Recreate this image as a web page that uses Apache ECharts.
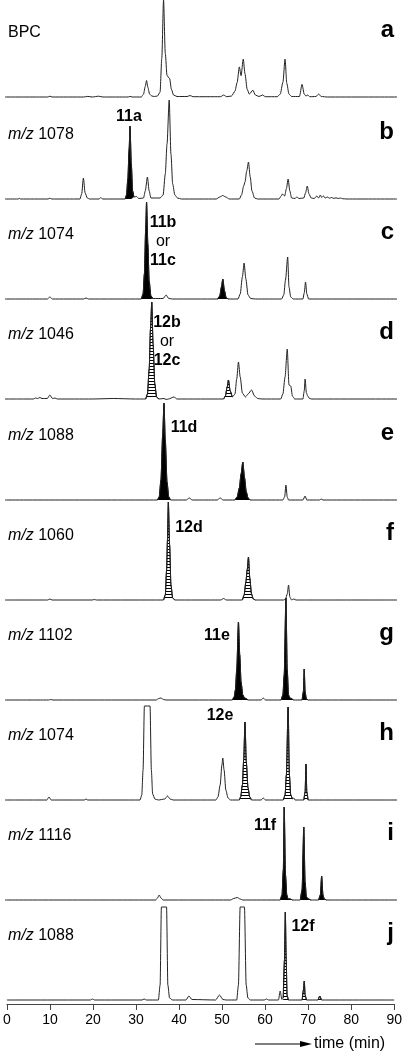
<!DOCTYPE html>
<html><head><meta charset="utf-8">
<script src="https://cdn.jsdelivr.net/npm/echarts@6/dist/echarts.min.js"></script>
<style>html,body{margin:0;padding:0;background:#fff}#c{width:405px;height:1052px}</style>
</head><body><div id="c"></div>
<script>
// ---------------- DATA ----------------
const xTicks = [0, 10, 20, 30, 40, 50, 60, 70, 80, 90];
const traceLabels = ['BPC', 'm/z 1078', 'm/z 1074', 'm/z 1046', 'm/z 1088', 'm/z 1060', 'm/z 1102', 'm/z 1074', 'm/z 1116', 'm/z 1088'];
const panelLetters = ['a', 'b', 'c', 'd', 'e', 'f', 'g', 'h', 'i', 'j'];

// [time (min), relative intensity]
const traceA = [[0,0],[9.8,0],[10.3,0.8],[10.8,0],[18,0],[19,0.6],[20,0],[21.5,0.8],[22.5,0],[28.3,0],[28.7,0.6],[29.2,0],
[31.3,0],[31.8,3],[32.2,11],[32.5,17],[32.8,10],[33.2,3],[33.7,1],[34.3,0.5],[35.0,1],[35.6,5],[36.0,40],[36.4,100],[36.8,45],[37.2,22],[37.8,19],[38.2,8],[38.7,2],[39.5,0.5],[41.8,0.5],[42.5,1.5],[43.2,0.3],[49.5,0.3],[50.2,2],[50.9,0.3],[52.0,1],[52.8,6],[53.3,15],[53.8,31],[54.2,22],[54.7,39],[55.1,24],[55.6,8],[56.1,3],[56.9,7],[57.5,2],[58.3,0.5],[59.1,2],[59.8,0.3],[62.5,0.3],[63.2,3],[63.8,15],[64.3,39],[64.7,14],[65.2,3],[65.8,0.5],[67.6,0.5],[68.2,13],[68.7,3],[69.1,1],[69.5,2],[70,0.3],[71.4,0.5],[72.0,3],[72.6,0.5],[74,0],[90,0]];
const traceB = [[0,0],[3,0],[3.3,0.5],[3.6,0],[9.9,0],[10.3,0.8],[10.7,0],[17.2,0],[17.6,5],[18.0,21],[18.4,6],[18.9,1],[19.4,0],[21.6,0],[22.0,1.5],[22.4,0],[27.6,0],[27.9,4],[28.2,20],[28.5,50],[28.7,73],[29.0,35],[29.3,8],[29.6,2],[30.2,2.5],[30.7,0.5],[31.8,1],[32.2,8],[32.7,22],[33.1,8],[33.5,1],[35.6,1],[36.3,4],[36.8,25],[37.2,55],[37.7,99],[38.1,45],[38.5,15],[39.0,4],[39.6,1],[40.5,0],[48.5,0],[49.3,2],[50.0,3.5],[50.7,2],[51.5,0],[53.8,0],[54.3,4],[54.8,13],[55.1,17],[55.5,28],[55.9,37],[56.3,22],[56.7,8],[57.3,1],[58,0],[62.9,0],[63.4,3],[63.7,5],[64.2,3],[64.6,10],[65.0,20],[65.4,8],[65.8,1],[66.6,0.5],[67.0,2],[67.5,0.5],[68.6,1],[69.0,6],[69.4,13],[69.8,5],[70.3,1],[71.0,0.5],[71.6,3],[72.0,1],[72.4,4],[72.7,1.5],[73.1,3],[73.5,1],[74,2],[74.5,0.8],[75,1.5],[75.5,0.6],[76,1.2],[76.5,0.5],[77,1],[77.5,0.3],[78.5,0],[90,0]];
const traceC = [[0,0],[9.7,0],[10.3,2],[10.9,0],[18,0],[18.6,1],[19.2,0],[31.3,0],[31.7,5],[32.0,25],[32.3,70],[32.5,97],[32.8,55],[33.1,18],[33.5,3],[34,0.5],[36.3,0.5],[37.0,4],[37.6,0.5],[38.5,0],[48.8,0],[49.3,3],[49.7,12],[50.0,20],[50.4,8],[50.8,1],[51.3,0],[53.5,0],[54.0,5],[54.5,22],[54.9,36],[55.3,20],[55.8,4],[56.4,0.5],[57.5,0],[63.5,0],[64.0,4],[64.4,19],[64.9,42],[65.2,12],[65.6,2],[66.2,0],[68.4,0],[68.7,6],[69.0,17],[69.3,5],[69.7,0],[90,0]];
const traceD = [[0,0],[6.5,0],[7.0,1],[7.5,0.5],[8.0,1.5],[8.5,0.5],[9.7,0.5],[10.3,4],[10.9,0.5],[11.5,1],[12,0],[20,0],[25,0.5],[30,0],[32.3,0],[32.7,5],[33.1,30],[33.4,70],[33.7,97],[34.0,55],[34.4,15],[34.8,2],[35.3,0],[36.5,0.5],[37.0,-0.5],[37.5,0],[38.8,2],[39.5,0],[50.2,0],[50.6,3],[51.0,12],[51.3,19],[51.7,8],[52.2,2],[52.8,5],[53.2,20],[53.6,37],[54.0,22],[54.5,6],[55.2,2],[55.8,5],[56.6,9],[57.3,3],[58,0.5],[59,0],[63.3,0],[63.8,5],[64.3,22],[64.8,50],[65.2,14],[65.6,13],[66.0,3],[66.5,0],[68.4,0],[68.7,8],[68.9,20],[69.2,6],[69.5,3],[69.8,1],[70.3,0],[90,0]];
const traceE = [[0,0],[35.0,0],[35.4,3],[35.8,20],[36.2,65],[36.5,97],[36.8,60],[37.2,18],[37.6,3],[38.0,0],[41.6,0],[42.3,2],[43,0],[48.7,0],[49.4,2],[50.1,0],[52.8,0],[53.3,3],[53.8,12],[54.2,26],[54.6,38],[55.0,22],[55.4,8],[55.8,2],[56.3,0],[63.8,0],[64.2,3],[64.5,15],[64.8,3],[65.1,0],[68.4,0],[68.9,4],[69.3,0],[72.2,0],[72.6,1],[73,0],[90,0]];
const traceF = [[0,0],[9.8,0],[10.3,1],[10.8,0],[20,0],[20.5,0.5],[21,0],[36.4,0],[36.8,5],[37.1,30],[37.3,60],[37.5,98],[37.8,55],[38.1,15],[38.5,2],[39,0],[49.5,0],[50.2,1.5],[50.8,0],[54.5,0],[54.9,5],[55.3,18],[55.6,30],[55.9,43],[56.2,22],[56.6,6],[57,1],[57.5,0],[64.0,0],[64.4,1],[64.8,6],[65.1,15],[65.4,3],[65.8,0],[66.3,1],[66.8,0],[90,0]];
const traceG = [[0,0],[10,0],[10.5,0.5],[11,0],[34.7,0],[35.3,1.5],[35.8,2],[36.4,0.5],[37,0],[52.2,0],[52.6,3],[52.9,10],[53.2,30],[53.6,78],[53.9,45],[54.2,18],[54.6,5],[55.0,2],[55.3,1.5],[55.8,0],[58.8,0],[59.3,2],[59.8,0],[63.4,0],[63.8,5],[64.1,25],[64.5,102],[64.8,30],[65.1,5],[65.4,2],[65.8,1.5],[66.2,0],[68.2,0],[68.5,8],[68.7,31],[68.9,8],[69.2,1],[69.6,0],[90,0]];
const traceH = [[0,0],[9.6,0],[10.1,3],[10.6,0],[18.2,0],[18.6,1],[19.0,0],[31.0,0],[31.4,5],[31.7,30],[32.0,94],[33.3,94],[33.6,30],[33.9,6],[34.4,1],[35.2,0],[36.7,1],[37.3,4],[37.9,1],[38.6,0],[48.4,0],[48.9,3],[49.4,15],[49.8,35],[50.0,42],[50.3,30],[50.7,10],[51.2,2],[51.8,0],[53.8,0],[54.1,3],[54.5,15],[54.8,40],[55.1,78],[55.4,38],[55.8,12],[56.2,3],[56.6,0],[58.8,0],[59.3,2],[59.8,0],[63.9,0],[64.3,5],[64.6,25],[65.0,93],[65.3,25],[65.6,5],[66.0,1],[66.3,2],[66.6,0],[68.6,0],[68.9,8],[69.1,36],[69.3,8],[69.6,0],[90,0]];
const traceI = [[0,0],[34.6,0],[35.0,2],[35.4,5],[35.8,2],[36.3,0],[51.8,0],[52.5,1.5],[53.3,2.5],[54.0,1],[54.6,0],[63.2,0],[63.6,5],[63.9,30],[64.1,93],[64.4,25],[64.7,5],[65.0,1],[65.5,1],[66,0],[67.8,0],[68.2,10],[68.6,73],[68.9,18],[69.2,3],[69.7,1],[70.2,0],[72.0,0],[72.4,5],[72.7,24],[73.0,5],[73.3,1],[73.8,0],[90,0]];
const traceJ = [[0,0],[19.4,0],[19.9,1],[20.4,0],[31.4,0],[31.9,1],[32.4,0],[35.2,0],[35.6,15],[35.9,93],[37.1,93],[37.4,15],[37.8,2],[38.5,0],[41.6,0],[42.3,4],[43.0,0.5],[48.5,0],[49.4,5],[50.2,0.5],[51,0],[53.4,0],[53.8,15],[54.2,93],[55.2,93],[55.6,15],[56.0,2],[56.6,0],[59.8,0],[60.3,1],[60.8,0],[63.1,0],[63.5,9],[63.9,0.5],[64.2,2],[64.5,40],[64.7,88],[64.9,40],[65.1,5],[65.4,0],[68.6,0],[68.9,10],[69.1,19],[69.3,5],[69.6,0],[72.3,0],[72.7,4],[73.1,0],[90,0]];
const traces = [traceA, traceB, traceC, traceD, traceE, traceF, traceG, traceH, traceI, traceJ];

// filled peaks per panel: [start, end, kind]  kind: 's' solid, 'h' hatched
const fillRanges = [
  [],
  [[27.6, 29.6, 's']],
  [[31.3, 34.0, 's'], [48.8, 51.3, 's']],
  [[32.3, 35.3, 'h'], [50.2, 52.2, 'h']],
  [[35.0, 38.0, 's'], [52.8, 56.3, 's']],
  [[36.4, 39.0, 'h'], [54.5, 57.5, 'h']],
  [[52.2, 55.8, 's'], [63.4, 66.2, 's'], [68.2, 69.6, 's']],
  [[53.8, 56.6, 'h'], [63.9, 66.0, 'h'], [68.6, 69.6, 'h']],
  [[63.2, 66.0, 's'], [67.8, 70.2, 's'], [72.0, 73.8, 's']],
  [[64.2, 65.4, 'h'], [68.6, 69.6, 'h'], [72.3, 73.1, 'h']]
];
const compoundLabels = [[], [['11a']], [['11b', 'or', '11c']], [['12b', 'or', '12c']], [['11d']], [['12d']], [['11e']], [['12e']], [['11f']], [['12f']]];
const axisTitle = 'time (min)';

// ---------------- LAYOUT ----------------
const W = 405, LEFT = 5, RIGHT = 8;
const baselines = [97, 199, 299, 399, 500, 600, 700, 800, 900, 1000];
const AXIS_Y = 1004;
const PANEL_H = 100;
const compoundPos = [null, [129, 117], [163, 222.5], [167, 323], [184, 428], [189, 528], [217, 635.5], [220, 716], [265, 825.5], [303, 926.5]];
const FONT = '"Liberation Sans", Arial, Helvetica, sans-serif';

const hatch = document.createElement('canvas');
hatch.width = 4; hatch.height = 3;
const hc = hatch.getContext('2d');
hc.fillStyle = '#fff'; hc.fillRect(0, 0, 4, 3);
hc.fillStyle = '#000'; hc.fillRect(0, 0, 4, 1);

const grids = [], xAxes = [], yAxes = [], series = [], graphics = [];
traces.forEach((tr, k) => {
  const last = k === traces.length - 1;
  const top = baselines[k] - PANEL_H;
  const height = last ? (AXIS_Y - top) : PANEL_H;
  grids.push({ left: LEFT, right: RIGHT, top: top, height: height });
  xAxes.push({
    gridIndex: k, type: 'value', min: xTicks[0], max: xTicks[xTicks.length - 1],
    interval: xTicks[1] - xTicks[0], show: last,
    axisLine: { show: true, onZero: false, lineStyle: { color: '#444', width: 1 } },
    axisTick: { show: true, length: 6, lineStyle: { color: '#444' } },
    axisLabel: { show: true, fontSize: 14, color: '#000', fontFamily: FONT, margin: 9 },
    splitLine: { show: false }
  });
  yAxes.push({ gridIndex: k, type: 'value', min: last ? -(AXIS_Y - baselines[k]) : 0, max: PANEL_H, show: false });
  fillRanges[k].forEach(r => {
    series.push({
      type: 'line', xAxisIndex: k, yAxisIndex: k, clip: false, silent: true,
      showSymbol: false, smooth: 0.25, smoothMonotone: 'x',
      data: tr.filter(p => p[0] >= r[0] && p[0] <= r[1]),
      lineStyle: { width: 1, color: '#000' },
      areaStyle: { opacity: 1, origin: 0, color: r[2] === 's' ? '#000' : { image: hatch, repeat: 'repeat' } },
      z: 2
    });
  });
  series.push({
    type: 'line', xAxisIndex: k, yAxisIndex: k, clip: false, silent: true,
    showSymbol: false, smooth: 0.25, smoothMonotone: 'x', data: tr,
    lineStyle: { width: 1, color: '#222' }, z: 3
  });
  // left label
  const lab = traceLabels[k];
  const txt = lab.startsWith('m/z') ? '{i|m/z}' + lab.slice(3) : lab;
  graphics.push({
    type: 'text', x: 8, y: baselines[k] - 100 + 36 + (k === 0 ? 0 : 0), z: 10,
    style: { text: txt, font: '16px ' + FONT, fill: '#000', align: 'left', verticalAlign: 'middle',
      rich: { i: { fontStyle: 'italic', fontSize: 16, fontFamily: FONT } } }
  });
  graphics.push({
    type: 'text', x: 394, y: baselines[k] - 100 + 33, z: 10,
    style: { text: panelLetters[k], font: 'bold 24px ' + FONT, fill: '#000', align: 'right', verticalAlign: 'middle' }
  });
  compoundLabels[k].forEach(lines => {
    const pos = compoundPos[k];
    lines.forEach((ln, j) => {
      graphics.push({
        type: 'text', x: pos[0], y: pos[1] + j * 19, z: 10,
        style: { text: ln, font: (ln === 'or' ? '' : 'bold ') + '16px ' + FONT, fill: '#000', align: 'center', verticalAlign: 'middle' }
      });
    });
  });
});
// axis title with arrow
graphics.push({ type: 'line', z: 10, shape: { x1: 255, y1: 1044, x2: 302, y2: 1044 }, style: { stroke: '#000', lineWidth: 1 } });
graphics.push({ type: 'polygon', z: 10, shape: { points: [[300, 1041], [312, 1044], [300, 1047]] }, style: { fill: '#000' } });
graphics.push({ type: 'text', x: 314, y: 1044, z: 10, style: { text: axisTitle, font: '16px ' + FONT, fill: '#000', align: 'left', verticalAlign: 'middle' } });

const chart = echarts.init(document.getElementById('c'), null, { renderer: 'canvas' });
chart.setOption({
  animation: false, backgroundColor: '#fff',
  grid: grids, xAxis: xAxes, yAxis: yAxes, series: series, graphic: graphics
});
</script></body></html>
